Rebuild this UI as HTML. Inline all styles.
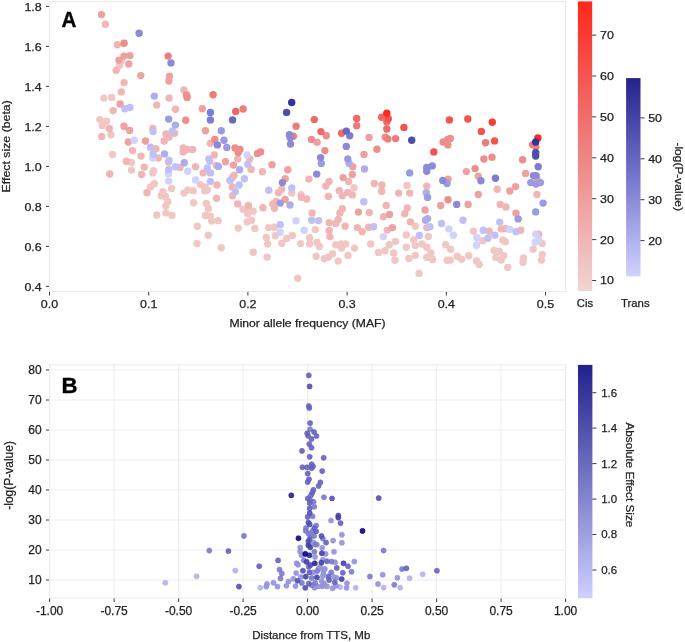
<!DOCTYPE html>
<html><head><meta charset="utf-8"><style>
html,body{margin:0;padding:0;background:#fff;}
svg{display:block;}
text{font-family:"Liberation Sans",sans-serif;fill:#222;stroke:#222;stroke-width:0.25px;}
svg{will-change:transform;}
.da{font-size:11.1px;}
.db{font-size:11.5px;}
.dbt{font-size:12px;}
.big{font-size:22.2px;font-weight:bold;fill:#000;stroke:#000;stroke-width:0.35px;}
</style></head><body>
<svg width="685" height="642" viewBox="0 0 685 642">
<rect width="685" height="642" fill="#fff"/>
<rect x="49.5" y="1.5" width="516" height="290" fill="none" stroke="#eaeaea" stroke-width="1"/>
<line x1="46" y1="6.4" x2="49" y2="6.4" stroke="#3a3a3a" stroke-width="1"/>
<text x="41.7" y="10.8" text-anchor="end" class="da" textLength="17.29" lengthAdjust="spacingAndGlyphs">1.8</text>
<line x1="46" y1="46.4" x2="49" y2="46.4" stroke="#3a3a3a" stroke-width="1"/>
<text x="41.7" y="50.8" text-anchor="end" class="da" textLength="17.29" lengthAdjust="spacingAndGlyphs">1.6</text>
<line x1="46" y1="86.4" x2="49" y2="86.4" stroke="#3a3a3a" stroke-width="1"/>
<text x="41.7" y="90.8" text-anchor="end" class="da" textLength="17.29" lengthAdjust="spacingAndGlyphs">1.4</text>
<line x1="46" y1="126.4" x2="49" y2="126.4" stroke="#3a3a3a" stroke-width="1"/>
<text x="41.7" y="130.8" text-anchor="end" class="da" textLength="17.29" lengthAdjust="spacingAndGlyphs">1.2</text>
<line x1="46" y1="166.4" x2="49" y2="166.4" stroke="#3a3a3a" stroke-width="1"/>
<text x="41.7" y="170.8" text-anchor="end" class="da" textLength="17.29" lengthAdjust="spacingAndGlyphs">1.0</text>
<line x1="46" y1="206.4" x2="49" y2="206.4" stroke="#3a3a3a" stroke-width="1"/>
<text x="41.7" y="210.8" text-anchor="end" class="da" textLength="17.29" lengthAdjust="spacingAndGlyphs">0.8</text>
<line x1="46" y1="246.4" x2="49" y2="246.4" stroke="#3a3a3a" stroke-width="1"/>
<text x="41.7" y="250.8" text-anchor="end" class="da" textLength="17.29" lengthAdjust="spacingAndGlyphs">0.6</text>
<line x1="46" y1="286.4" x2="49" y2="286.4" stroke="#3a3a3a" stroke-width="1"/>
<text x="41.7" y="290.8" text-anchor="end" class="da" textLength="17.29" lengthAdjust="spacingAndGlyphs">0.4</text>
<line x1="49.5" y1="292" x2="49.5" y2="295.5" stroke="#3a3a3a" stroke-width="1"/>
<text x="49.5" y="307.8" text-anchor="middle" class="da" textLength="17.29" lengthAdjust="spacingAndGlyphs">0.0</text>
<line x1="148.7" y1="292" x2="148.7" y2="295.5" stroke="#3a3a3a" stroke-width="1"/>
<text x="148.7" y="307.8" text-anchor="middle" class="da" textLength="17.29" lengthAdjust="spacingAndGlyphs">0.1</text>
<line x1="247.9" y1="292" x2="247.9" y2="295.5" stroke="#3a3a3a" stroke-width="1"/>
<text x="247.9" y="307.8" text-anchor="middle" class="da" textLength="17.29" lengthAdjust="spacingAndGlyphs">0.2</text>
<line x1="347.1" y1="292" x2="347.1" y2="295.5" stroke="#3a3a3a" stroke-width="1"/>
<text x="347.1" y="307.8" text-anchor="middle" class="da" textLength="17.29" lengthAdjust="spacingAndGlyphs">0.3</text>
<line x1="446.3" y1="292" x2="446.3" y2="295.5" stroke="#3a3a3a" stroke-width="1"/>
<text x="446.3" y="307.8" text-anchor="middle" class="da" textLength="17.29" lengthAdjust="spacingAndGlyphs">0.4</text>
<line x1="545.5" y1="292" x2="545.5" y2="295.5" stroke="#3a3a3a" stroke-width="1"/>
<text x="545.5" y="307.8" text-anchor="middle" class="da" textLength="17.29" lengthAdjust="spacingAndGlyphs">0.5</text>
<text x="307.5" y="326.6" text-anchor="middle" class="da" textLength="155.94" lengthAdjust="spacingAndGlyphs">Minor allele frequency (MAF)</text>
<text transform="translate(9.8,146.3) rotate(-90)" text-anchor="middle" class="da" textLength="92.26" lengthAdjust="spacingAndGlyphs">Effect size (beta)</text>
<text transform="translate(61.6,27.0) scale(0.93,1)" class="big">A</text>
<defs><linearGradient id="gc" x1="0" y1="1" x2="0" y2="0"><stop offset="0" stop-color="#f2d4d4"/><stop offset="0.5" stop-color="#ec807e"/><stop offset="1" stop-color="#ff281c"/></linearGradient><linearGradient id="gt" x1="0" y1="1" x2="0" y2="0"><stop offset="0" stop-color="#d2d2ff"/><stop offset="0.5" stop-color="#7676cd"/><stop offset="1" stop-color="#22228c"/></linearGradient><linearGradient id="gb" x1="0" y1="1" x2="0" y2="0"><stop offset="0" stop-color="#cfcfff"/><stop offset="1" stop-color="#21218d"/></linearGradient></defs>
<rect x="577.9" y="1.4" width="14.3" height="289.7" fill="url(#gc)"/>
<rect x="626.1" y="78.1" width="14.4" height="198.3" fill="url(#gt)"/>
<line x1="592.2" y1="35.1" x2="596.2" y2="35.1" stroke="#3a3a3a" stroke-width="1"/>
<text x="600.0" y="39.0" text-anchor="start" class="da" textLength="13.83" lengthAdjust="spacingAndGlyphs">70</text>
<line x1="592.2" y1="76.0" x2="596.2" y2="76.0" stroke="#3a3a3a" stroke-width="1"/>
<text x="600.0" y="79.9" text-anchor="start" class="da" textLength="13.83" lengthAdjust="spacingAndGlyphs">60</text>
<line x1="592.2" y1="116.9" x2="596.2" y2="116.9" stroke="#3a3a3a" stroke-width="1"/>
<text x="600.0" y="120.8" text-anchor="start" class="da" textLength="13.83" lengthAdjust="spacingAndGlyphs">50</text>
<line x1="592.2" y1="157.8" x2="596.2" y2="157.8" stroke="#3a3a3a" stroke-width="1"/>
<text x="600.0" y="161.7" text-anchor="start" class="da" textLength="13.83" lengthAdjust="spacingAndGlyphs">40</text>
<line x1="592.2" y1="198.7" x2="596.2" y2="198.7" stroke="#3a3a3a" stroke-width="1"/>
<text x="600.0" y="202.6" text-anchor="start" class="da" textLength="13.83" lengthAdjust="spacingAndGlyphs">30</text>
<line x1="592.2" y1="239.6" x2="596.2" y2="239.6" stroke="#3a3a3a" stroke-width="1"/>
<text x="600.0" y="243.5" text-anchor="start" class="da" textLength="13.83" lengthAdjust="spacingAndGlyphs">20</text>
<line x1="592.2" y1="280.5" x2="596.2" y2="280.5" stroke="#3a3a3a" stroke-width="1"/>
<text x="600.0" y="284.4" text-anchor="start" class="da" textLength="13.83" lengthAdjust="spacingAndGlyphs">10</text>
<line x1="640.5" y1="117.9" x2="644.5" y2="117.9" stroke="#3a3a3a" stroke-width="1"/>
<text x="648.2" y="121.8" text-anchor="start" class="da" textLength="13.83" lengthAdjust="spacingAndGlyphs">50</text>
<line x1="640.5" y1="158.8" x2="644.5" y2="158.8" stroke="#3a3a3a" stroke-width="1"/>
<text x="648.2" y="162.7" text-anchor="start" class="da" textLength="13.83" lengthAdjust="spacingAndGlyphs">40</text>
<line x1="640.5" y1="199.7" x2="644.5" y2="199.7" stroke="#3a3a3a" stroke-width="1"/>
<text x="648.2" y="203.6" text-anchor="start" class="da" textLength="13.83" lengthAdjust="spacingAndGlyphs">30</text>
<line x1="640.5" y1="240.6" x2="644.5" y2="240.6" stroke="#3a3a3a" stroke-width="1"/>
<text x="648.2" y="244.5" text-anchor="start" class="da" textLength="13.83" lengthAdjust="spacingAndGlyphs">20</text>
<text x="585" y="306.6" text-anchor="middle" class="da" textLength="16.27" lengthAdjust="spacingAndGlyphs">Cis</text>
<text x="635.3" y="306.6" text-anchor="middle" class="da" textLength="28.72" lengthAdjust="spacingAndGlyphs">Trans</text>
<text transform="translate(675.2,176.7) rotate(90)" text-anchor="middle" class="da" textLength="68.61" lengthAdjust="spacingAndGlyphs">-log(P-value)</text>
<circle cx="121.3" cy="60.8" r="3.7" fill="#f1c7c6"/>
<circle cx="119.5" cy="65.4" r="3.7" fill="#f1c7c6"/>
<circle cx="103.9" cy="98.1" r="3.7" fill="#f1c7c6"/>
<circle cx="111.7" cy="97.4" r="3.7" fill="#f1c7c6"/>
<circle cx="99.8" cy="119.6" r="3.7" fill="#f1c7c6"/>
<circle cx="106.5" cy="121.2" r="3.7" fill="#f1c7c6"/>
<circle cx="102.2" cy="125.7" r="3.7" fill="#f1c7c6"/>
<circle cx="110.9" cy="134.7" r="3.7" fill="#f1c7c6"/>
<circle cx="112.5" cy="154.5" r="3.7" fill="#f1c7c6"/>
<circle cx="131.5" cy="162.5" r="3.7" fill="#f1c7c6"/>
<circle cx="131.5" cy="170.1" r="3.7" fill="#f1c7c6"/>
<circle cx="153.6" cy="170.6" r="3.7" fill="#f1c7c6"/>
<circle cx="152.8" cy="172.9" r="3.7" fill="#f1c7c6"/>
<circle cx="200.3" cy="184.6" r="3.7" fill="#f1c7c6"/>
<circle cx="205.0" cy="186.9" r="3.7" fill="#f1c7c6"/>
<circle cx="207.3" cy="190.0" r="3.7" fill="#f1c7c6"/>
<circle cx="154.3" cy="183.8" r="3.7" fill="#f1c7c6"/>
<circle cx="150.5" cy="186.9" r="3.7" fill="#f1c7c6"/>
<circle cx="171.5" cy="188.5" r="3.7" fill="#f1c7c6"/>
<circle cx="162.9" cy="191.6" r="3.7" fill="#f1c7c6"/>
<circle cx="187.8" cy="190.0" r="3.7" fill="#f1c7c6"/>
<circle cx="193.3" cy="190.8" r="3.7" fill="#f1c7c6"/>
<circle cx="183.9" cy="193.1" r="3.7" fill="#f1c7c6"/>
<circle cx="161.4" cy="195.7" r="3.7" fill="#f1c7c6"/>
<circle cx="165.4" cy="196.5" r="3.7" fill="#f1c7c6"/>
<circle cx="167.9" cy="201.4" r="3.7" fill="#f1c7c6"/>
<circle cx="165.9" cy="206.0" r="3.7" fill="#f1c7c6"/>
<circle cx="165.9" cy="212.9" r="3.7" fill="#f1c7c6"/>
<circle cx="172.0" cy="215.4" r="3.7" fill="#f1c7c6"/>
<circle cx="156.8" cy="215.0" r="3.7" fill="#f1c7c6"/>
<circle cx="193.6" cy="202.8" r="3.7" fill="#f1c7c6"/>
<circle cx="204.7" cy="190.8" r="3.7" fill="#f1c7c6"/>
<circle cx="206.3" cy="203.4" r="3.7" fill="#f1c7c6"/>
<circle cx="208.5" cy="208.8" r="3.7" fill="#f1c7c6"/>
<circle cx="205.5" cy="215.4" r="3.7" fill="#f1c7c6"/>
<circle cx="210.4" cy="216.2" r="3.7" fill="#f1c7c6"/>
<circle cx="211.7" cy="221.1" r="3.7" fill="#f1c7c6"/>
<circle cx="218.1" cy="220.7" r="3.7" fill="#f1c7c6"/>
<circle cx="197.3" cy="226.3" r="3.7" fill="#f1c7c6"/>
<circle cx="208.3" cy="235.3" r="3.7" fill="#f1c7c6"/>
<circle cx="197.0" cy="243.5" r="3.7" fill="#f1c7c6"/>
<circle cx="221.2" cy="247.7" r="3.7" fill="#f1c7c6"/>
<circle cx="243.1" cy="209.3" r="3.7" fill="#f1c7c6"/>
<circle cx="247.7" cy="213.7" r="3.7" fill="#f1c7c6"/>
<circle cx="247.2" cy="221.9" r="3.7" fill="#f1c7c6"/>
<circle cx="238.2" cy="228.1" r="3.7" fill="#f1c7c6"/>
<circle cx="291.7" cy="193.1" r="3.7" fill="#f1c7c6"/>
<circle cx="301.1" cy="194.7" r="3.7" fill="#f1c7c6"/>
<circle cx="249.1" cy="210.4" r="3.7" fill="#f1c7c6"/>
<circle cx="253.2" cy="211.3" r="3.7" fill="#f1c7c6"/>
<circle cx="251.5" cy="220.3" r="3.7" fill="#f1c7c6"/>
<circle cx="254.8" cy="228.4" r="3.7" fill="#f1c7c6"/>
<circle cx="268.7" cy="227.6" r="3.7" fill="#f1c7c6"/>
<circle cx="274.4" cy="227.3" r="3.7" fill="#f1c7c6"/>
<circle cx="275.3" cy="235.8" r="3.7" fill="#f1c7c6"/>
<circle cx="266.3" cy="237.4" r="3.7" fill="#f1c7c6"/>
<circle cx="267.6" cy="244.0" r="3.7" fill="#f1c7c6"/>
<circle cx="281.8" cy="243.2" r="3.7" fill="#f1c7c6"/>
<circle cx="286.7" cy="238.2" r="3.7" fill="#f1c7c6"/>
<circle cx="292.4" cy="235.5" r="3.7" fill="#f1c7c6"/>
<circle cx="300.6" cy="243.6" r="3.7" fill="#f1c7c6"/>
<circle cx="315.3" cy="229.6" r="3.7" fill="#f1c7c6"/>
<circle cx="309.6" cy="237.8" r="3.7" fill="#f1c7c6"/>
<circle cx="309.6" cy="244.0" r="3.7" fill="#f1c7c6"/>
<circle cx="317.0" cy="242.3" r="3.7" fill="#f1c7c6"/>
<circle cx="319.4" cy="246.4" r="3.7" fill="#f1c7c6"/>
<circle cx="335.8" cy="244.8" r="3.7" fill="#f1c7c6"/>
<circle cx="341.5" cy="244.0" r="3.7" fill="#f1c7c6"/>
<circle cx="345.6" cy="244.0" r="3.7" fill="#f1c7c6"/>
<circle cx="341.5" cy="248.1" r="3.7" fill="#f1c7c6"/>
<circle cx="348.0" cy="255.4" r="3.7" fill="#f1c7c6"/>
<circle cx="332.5" cy="253.8" r="3.7" fill="#f1c7c6"/>
<circle cx="328.4" cy="257.1" r="3.7" fill="#f1c7c6"/>
<circle cx="324.3" cy="258.7" r="3.7" fill="#f1c7c6"/>
<circle cx="316.1" cy="256.2" r="3.7" fill="#f1c7c6"/>
<circle cx="338.2" cy="261.1" r="3.7" fill="#f1c7c6"/>
<circle cx="253.2" cy="252.2" r="3.7" fill="#f1c7c6"/>
<circle cx="267.1" cy="257.1" r="3.7" fill="#f1c7c6"/>
<circle cx="297.7" cy="278.3" r="3.7" fill="#f1c7c6"/>
<circle cx="354.0" cy="187.7" r="3.7" fill="#f1c7c6"/>
<circle cx="407.0" cy="185.4" r="3.7" fill="#f1c7c6"/>
<circle cx="415.3" cy="226.3" r="3.7" fill="#f1c7c6"/>
<circle cx="406.3" cy="235.0" r="3.7" fill="#f1c7c6"/>
<circle cx="428.4" cy="236.6" r="3.7" fill="#f1c7c6"/>
<circle cx="413.7" cy="239.9" r="3.7" fill="#f1c7c6"/>
<circle cx="415.3" cy="245.6" r="3.7" fill="#f1c7c6"/>
<circle cx="421.9" cy="244.0" r="3.7" fill="#f1c7c6"/>
<circle cx="426.8" cy="247.2" r="3.7" fill="#f1c7c6"/>
<circle cx="354.5" cy="248.1" r="3.7" fill="#f1c7c6"/>
<circle cx="370.7" cy="244.0" r="3.7" fill="#f1c7c6"/>
<circle cx="395.4" cy="241.5" r="3.7" fill="#f1c7c6"/>
<circle cx="389.2" cy="244.8" r="3.7" fill="#f1c7c6"/>
<circle cx="406.3" cy="247.2" r="3.7" fill="#f1c7c6"/>
<circle cx="378.5" cy="252.5" r="3.7" fill="#f1c7c6"/>
<circle cx="385.1" cy="250.8" r="3.7" fill="#f1c7c6"/>
<circle cx="393.7" cy="253.0" r="3.7" fill="#f1c7c6"/>
<circle cx="394.9" cy="260.3" r="3.7" fill="#f1c7c6"/>
<circle cx="408.8" cy="258.4" r="3.7" fill="#f1c7c6"/>
<circle cx="415.3" cy="255.4" r="3.7" fill="#f1c7c6"/>
<circle cx="430.9" cy="253.0" r="3.7" fill="#f1c7c6"/>
<circle cx="426.8" cy="257.4" r="3.7" fill="#f1c7c6"/>
<circle cx="432.5" cy="259.5" r="3.7" fill="#f1c7c6"/>
<circle cx="445.6" cy="244.8" r="3.7" fill="#f1c7c6"/>
<circle cx="447.2" cy="260.3" r="3.7" fill="#f1c7c6"/>
<circle cx="419.1" cy="273.4" r="3.7" fill="#f1c7c6"/>
<circle cx="473.4" cy="231.2" r="3.7" fill="#f1c7c6"/>
<circle cx="482.7" cy="240.8" r="3.7" fill="#f1c7c6"/>
<circle cx="542.2" cy="243.4" r="3.7" fill="#f1c7c6"/>
<circle cx="533.1" cy="249.2" r="3.7" fill="#f1c7c6"/>
<circle cx="542.2" cy="254.5" r="3.7" fill="#f1c7c6"/>
<circle cx="541.4" cy="260.1" r="3.7" fill="#f1c7c6"/>
<circle cx="502.8" cy="239.9" r="3.7" fill="#f1c7c6"/>
<circle cx="505.4" cy="241.7" r="3.7" fill="#f1c7c6"/>
<circle cx="450.6" cy="249.2" r="3.7" fill="#f1c7c6"/>
<circle cx="457.3" cy="256.2" r="3.7" fill="#f1c7c6"/>
<circle cx="461.6" cy="259.2" r="3.7" fill="#f1c7c6"/>
<circle cx="468.7" cy="255.7" r="3.7" fill="#f1c7c6"/>
<circle cx="450.3" cy="260.1" r="3.7" fill="#f1c7c6"/>
<circle cx="476.5" cy="261.0" r="3.7" fill="#f1c7c6"/>
<circle cx="479.2" cy="264.5" r="3.7" fill="#f1c7c6"/>
<circle cx="494.1" cy="250.4" r="3.7" fill="#f1c7c6"/>
<circle cx="499.3" cy="251.3" r="3.7" fill="#f1c7c6"/>
<circle cx="503.7" cy="255.7" r="3.7" fill="#f1c7c6"/>
<circle cx="495.8" cy="257.4" r="3.7" fill="#f1c7c6"/>
<circle cx="501.1" cy="260.1" r="3.7" fill="#f1c7c6"/>
<circle cx="523.5" cy="258.0" r="3.7" fill="#f1c7c6"/>
<circle cx="523.0" cy="262.2" r="3.7" fill="#f1c7c6"/>
<circle cx="507.7" cy="267.4" r="3.7" fill="#f1c7c6"/>
<circle cx="105.4" cy="24.3" r="3.7" fill="#f0b6b5"/>
<circle cx="117.4" cy="44.7" r="3.7" fill="#f0b6b5"/>
<circle cx="116.2" cy="70.3" r="3.7" fill="#f0b6b5"/>
<circle cx="124.1" cy="82.6" r="3.7" fill="#f0b6b5"/>
<circle cx="121.3" cy="91.9" r="3.7" fill="#f0b6b5"/>
<circle cx="113.1" cy="110.6" r="3.7" fill="#f0b6b5"/>
<circle cx="109.3" cy="128.5" r="3.7" fill="#f0b6b5"/>
<circle cx="101.7" cy="136.4" r="3.7" fill="#f0b6b5"/>
<circle cx="132.6" cy="150.6" r="3.7" fill="#f0b6b5"/>
<circle cx="141.1" cy="156.1" r="3.7" fill="#f0b6b5"/>
<circle cx="126.3" cy="161.2" r="3.7" fill="#f0b6b5"/>
<circle cx="144.2" cy="167.1" r="3.7" fill="#f0b6b5"/>
<circle cx="109.7" cy="174.0" r="3.7" fill="#f0b6b5"/>
<circle cx="141.6" cy="174.5" r="3.7" fill="#f0b6b5"/>
<circle cx="147.0" cy="192.8" r="3.7" fill="#f0b6b5"/>
<circle cx="183.9" cy="90.0" r="3.7" fill="#f0b6b5"/>
<circle cx="169.1" cy="98.1" r="3.7" fill="#f0b6b5"/>
<circle cx="156.7" cy="105.1" r="3.7" fill="#f0b6b5"/>
<circle cx="175.4" cy="109.3" r="3.7" fill="#f0b6b5"/>
<circle cx="152.8" cy="128.5" r="3.7" fill="#f0b6b5"/>
<circle cx="174.6" cy="133.2" r="3.7" fill="#f0b6b5"/>
<circle cx="166.0" cy="134.0" r="3.7" fill="#f0b6b5"/>
<circle cx="169.1" cy="137.1" r="3.7" fill="#f0b6b5"/>
<circle cx="164.2" cy="141.0" r="3.7" fill="#f0b6b5"/>
<circle cx="210.4" cy="143.3" r="3.7" fill="#f0b6b5"/>
<circle cx="155.9" cy="148.7" r="3.7" fill="#f0b6b5"/>
<circle cx="183.2" cy="148.0" r="3.7" fill="#f0b6b5"/>
<circle cx="187.1" cy="149.5" r="3.7" fill="#f0b6b5"/>
<circle cx="192.5" cy="149.5" r="3.7" fill="#f0b6b5"/>
<circle cx="183.2" cy="151.9" r="3.7" fill="#f0b6b5"/>
<circle cx="158.2" cy="158.1" r="3.7" fill="#f0b6b5"/>
<circle cx="168.4" cy="162.0" r="3.7" fill="#f0b6b5"/>
<circle cx="180.0" cy="167.4" r="3.7" fill="#f0b6b5"/>
<circle cx="195.6" cy="166.7" r="3.7" fill="#f0b6b5"/>
<circle cx="214.3" cy="155.0" r="3.7" fill="#f0b6b5"/>
<circle cx="216.4" cy="165.4" r="3.7" fill="#f0b6b5"/>
<circle cx="237.7" cy="158.9" r="3.7" fill="#f0b6b5"/>
<circle cx="203.1" cy="172.9" r="3.7" fill="#f0b6b5"/>
<circle cx="234.1" cy="175.2" r="3.7" fill="#f0b6b5"/>
<circle cx="232.2" cy="177.6" r="3.7" fill="#f0b6b5"/>
<circle cx="217.0" cy="185.0" r="3.7" fill="#f0b6b5"/>
<circle cx="232.2" cy="186.9" r="3.7" fill="#f0b6b5"/>
<circle cx="216.5" cy="198.2" r="3.7" fill="#f0b6b5"/>
<circle cx="232.5" cy="195.7" r="3.7" fill="#f0b6b5"/>
<circle cx="237.7" cy="203.9" r="3.7" fill="#f0b6b5"/>
<circle cx="248.4" cy="205.5" r="3.7" fill="#f0b6b5"/>
<circle cx="249.7" cy="158.9" r="3.7" fill="#f0b6b5"/>
<circle cx="251.2" cy="169.5" r="3.7" fill="#f0b6b5"/>
<circle cx="262.4" cy="171.8" r="3.7" fill="#f0b6b5"/>
<circle cx="308.9" cy="179.1" r="3.7" fill="#f0b6b5"/>
<circle cx="281.6" cy="189.3" r="3.7" fill="#f0b6b5"/>
<circle cx="278.5" cy="192.8" r="3.7" fill="#f0b6b5"/>
<circle cx="329.1" cy="181.5" r="3.7" fill="#f0b6b5"/>
<circle cx="325.7" cy="186.1" r="3.7" fill="#f0b6b5"/>
<circle cx="348.6" cy="181.5" r="3.7" fill="#f0b6b5"/>
<circle cx="339.3" cy="190.8" r="3.7" fill="#f0b6b5"/>
<circle cx="347.8" cy="192.4" r="3.7" fill="#f0b6b5"/>
<circle cx="272.8" cy="203.9" r="3.7" fill="#f0b6b5"/>
<circle cx="276.1" cy="201.4" r="3.7" fill="#f0b6b5"/>
<circle cx="274.4" cy="208.3" r="3.7" fill="#f0b6b5"/>
<circle cx="263.0" cy="207.7" r="3.7" fill="#f0b6b5"/>
<circle cx="301.4" cy="197.4" r="3.7" fill="#f0b6b5"/>
<circle cx="306.7" cy="199.0" r="3.7" fill="#f0b6b5"/>
<circle cx="312.1" cy="212.9" r="3.7" fill="#f0b6b5"/>
<circle cx="328.4" cy="196.5" r="3.7" fill="#f0b6b5"/>
<circle cx="342.3" cy="195.7" r="3.7" fill="#f0b6b5"/>
<circle cx="342.3" cy="208.8" r="3.7" fill="#f0b6b5"/>
<circle cx="339.9" cy="212.9" r="3.7" fill="#f0b6b5"/>
<circle cx="338.2" cy="219.4" r="3.7" fill="#f0b6b5"/>
<circle cx="329.2" cy="222.7" r="3.7" fill="#f0b6b5"/>
<circle cx="335.8" cy="223.5" r="3.7" fill="#f0b6b5"/>
<circle cx="329.2" cy="230.6" r="3.7" fill="#f0b6b5"/>
<circle cx="330.0" cy="236.6" r="3.7" fill="#f0b6b5"/>
<circle cx="345.1" cy="226.3" r="3.7" fill="#f0b6b5"/>
<circle cx="374.3" cy="183.5" r="3.7" fill="#f0b6b5"/>
<circle cx="381.9" cy="185.0" r="3.7" fill="#f0b6b5"/>
<circle cx="381.6" cy="191.3" r="3.7" fill="#f0b6b5"/>
<circle cx="398.7" cy="193.1" r="3.7" fill="#f0b6b5"/>
<circle cx="409.7" cy="193.1" r="3.7" fill="#f0b6b5"/>
<circle cx="426.8" cy="186.1" r="3.7" fill="#f0b6b5"/>
<circle cx="352.4" cy="194.9" r="3.7" fill="#f0b6b5"/>
<circle cx="386.2" cy="205.5" r="3.7" fill="#f0b6b5"/>
<circle cx="407.2" cy="208.0" r="3.7" fill="#f0b6b5"/>
<circle cx="404.7" cy="213.7" r="3.7" fill="#f0b6b5"/>
<circle cx="369.2" cy="212.6" r="3.7" fill="#f0b6b5"/>
<circle cx="383.4" cy="216.7" r="3.7" fill="#f0b6b5"/>
<circle cx="410.4" cy="221.9" r="3.7" fill="#f0b6b5"/>
<circle cx="357.3" cy="227.6" r="3.7" fill="#f0b6b5"/>
<circle cx="362.2" cy="231.7" r="3.7" fill="#f0b6b5"/>
<circle cx="368.7" cy="227.3" r="3.7" fill="#f0b6b5"/>
<circle cx="387.2" cy="230.1" r="3.7" fill="#f0b6b5"/>
<circle cx="426.8" cy="227.6" r="3.7" fill="#f0b6b5"/>
<circle cx="497.2" cy="189.3" r="3.7" fill="#f0b6b5"/>
<circle cx="537.0" cy="194.5" r="3.7" fill="#f0b6b5"/>
<circle cx="500.2" cy="204.4" r="3.7" fill="#f0b6b5"/>
<circle cx="506.0" cy="207.0" r="3.7" fill="#f0b6b5"/>
<circle cx="489.1" cy="231.2" r="3.7" fill="#f0b6b5"/>
<circle cx="501.4" cy="228.9" r="3.7" fill="#f0b6b5"/>
<circle cx="505.4" cy="228.5" r="3.7" fill="#f0b6b5"/>
<circle cx="520.7" cy="230.3" r="3.7" fill="#f0b6b5"/>
<circle cx="538.7" cy="234.1" r="3.7" fill="#f0b6b5"/>
<circle cx="101.5" cy="14.6" r="3.7" fill="#eea2a0"/>
<circle cx="129.9" cy="55.6" r="3.7" fill="#eea2a0"/>
<circle cx="124.0" cy="56.1" r="3.7" fill="#eea2a0"/>
<circle cx="119.0" cy="60.3" r="3.7" fill="#eea2a0"/>
<circle cx="128.8" cy="63.9" r="3.7" fill="#eea2a0"/>
<circle cx="140.8" cy="75.6" r="3.7" fill="#eea2a0"/>
<circle cx="120.1" cy="104.0" r="3.7" fill="#eea2a0"/>
<circle cx="124.0" cy="126.2" r="3.7" fill="#eea2a0"/>
<circle cx="129.6" cy="130.5" r="3.7" fill="#eea2a0"/>
<circle cx="128.3" cy="142.0" r="3.7" fill="#eea2a0"/>
<circle cx="145.5" cy="141.0" r="3.7" fill="#eea2a0"/>
<circle cx="169.5" cy="76.3" r="3.7" fill="#eea2a0"/>
<circle cx="168.8" cy="81.0" r="3.7" fill="#eea2a0"/>
<circle cx="202.3" cy="108.7" r="3.7" fill="#eea2a0"/>
<circle cx="205.4" cy="130.8" r="3.7" fill="#eea2a0"/>
<circle cx="225.5" cy="161.7" r="3.7" fill="#eea2a0"/>
<circle cx="233.5" cy="165.1" r="3.7" fill="#eea2a0"/>
<circle cx="317.1" cy="142.2" r="3.7" fill="#eea2a0"/>
<circle cx="272.0" cy="164.8" r="3.7" fill="#eea2a0"/>
<circle cx="287.8" cy="169.8" r="3.7" fill="#eea2a0"/>
<circle cx="285.2" cy="178.7" r="3.7" fill="#eea2a0"/>
<circle cx="343.1" cy="177.6" r="3.7" fill="#eea2a0"/>
<circle cx="285.1" cy="199.5" r="3.7" fill="#eea2a0"/>
<circle cx="369.1" cy="137.4" r="3.7" fill="#eea2a0"/>
<circle cx="364.0" cy="154.5" r="3.7" fill="#eea2a0"/>
<circle cx="352.8" cy="166.7" r="3.7" fill="#eea2a0"/>
<circle cx="352.3" cy="174.5" r="3.7" fill="#eea2a0"/>
<circle cx="448.1" cy="179.1" r="3.7" fill="#eea2a0"/>
<circle cx="440.7" cy="205.5" r="3.7" fill="#eea2a0"/>
<circle cx="425.1" cy="210.0" r="3.7" fill="#eea2a0"/>
<circle cx="358.4" cy="212.1" r="3.7" fill="#eea2a0"/>
<circle cx="389.5" cy="214.5" r="3.7" fill="#eea2a0"/>
<circle cx="392.4" cy="227.6" r="3.7" fill="#eea2a0"/>
<circle cx="466.4" cy="171.6" r="3.7" fill="#eea2a0"/>
<circle cx="478.3" cy="176.1" r="3.7" fill="#eea2a0"/>
<circle cx="525.6" cy="173.5" r="3.7" fill="#eea2a0"/>
<circle cx="537.0" cy="179.1" r="3.7" fill="#eea2a0"/>
<circle cx="515.6" cy="186.6" r="3.7" fill="#eea2a0"/>
<circle cx="509.8" cy="191.0" r="3.7" fill="#eea2a0"/>
<circle cx="478.3" cy="194.5" r="3.7" fill="#eea2a0"/>
<circle cx="468.1" cy="204.5" r="3.7" fill="#eea2a0"/>
<circle cx="516.0" cy="213.1" r="3.7" fill="#eea2a0"/>
<circle cx="124.1" cy="43.2" r="3.7" fill="#ed8d8c"/>
<circle cx="186.6" cy="95.0" r="3.7" fill="#ed8d8c"/>
<circle cx="187.1" cy="97.4" r="3.7" fill="#ed8d8c"/>
<circle cx="185.8" cy="120.2" r="3.7" fill="#ed8d8c"/>
<circle cx="214.8" cy="139.4" r="3.7" fill="#ed8d8c"/>
<circle cx="235.0" cy="148.0" r="3.7" fill="#ed8d8c"/>
<circle cx="240.0" cy="149.5" r="3.7" fill="#ed8d8c"/>
<circle cx="238.2" cy="152.6" r="3.7" fill="#ed8d8c"/>
<circle cx="326.3" cy="135.8" r="3.7" fill="#ed8d8c"/>
<circle cx="311.5" cy="139.4" r="3.7" fill="#ed8d8c"/>
<circle cx="324.9" cy="150.6" r="3.7" fill="#ed8d8c"/>
<circle cx="260.6" cy="151.9" r="3.7" fill="#ed8d8c"/>
<circle cx="257.5" cy="153.4" r="3.7" fill="#ed8d8c"/>
<circle cx="385.2" cy="137.1" r="3.7" fill="#ed8d8c"/>
<circle cx="376.9" cy="149.2" r="3.7" fill="#ed8d8c"/>
<circle cx="443.1" cy="142.0" r="3.7" fill="#ed8d8c"/>
<circle cx="447.8" cy="139.4" r="3.7" fill="#ed8d8c"/>
<circle cx="447.8" cy="144.9" r="3.7" fill="#ed8d8c"/>
<circle cx="448.0" cy="199.8" r="3.7" fill="#ed8d8c"/>
<circle cx="450.3" cy="138.4" r="3.7" fill="#ed8d8c"/>
<circle cx="522.6" cy="159.8" r="3.7" fill="#ed8d8c"/>
<circle cx="492.0" cy="157.2" r="3.7" fill="#ed8d8c"/>
<circle cx="483.9" cy="159.0" r="3.7" fill="#ed8d8c"/>
<circle cx="475.1" cy="168.6" r="3.7" fill="#ed8d8c"/>
<circle cx="168.1" cy="56.1" r="3.7" fill="#ed7c7a"/>
<circle cx="213.1" cy="94.7" r="3.7" fill="#ed7c7a"/>
<circle cx="243.1" cy="109.0" r="3.7" fill="#ed7c7a"/>
<circle cx="296.1" cy="126.2" r="3.7" fill="#ed7c7a"/>
<circle cx="293.3" cy="136.3" r="3.7" fill="#ed7c7a"/>
<circle cx="356.7" cy="125.7" r="3.7" fill="#ed7c7a"/>
<circle cx="387.8" cy="138.9" r="3.7" fill="#ed7c7a"/>
<circle cx="395.6" cy="138.6" r="3.7" fill="#ed7c7a"/>
<circle cx="485.6" cy="142.7" r="3.7" fill="#ed7c7a"/>
<circle cx="532.6" cy="144.6" r="3.7" fill="#ed7c7a"/>
<circle cx="535.7" cy="146.7" r="3.7" fill="#ed7c7a"/>
<circle cx="235.7" cy="111.4" r="3.7" fill="#f16965"/>
<circle cx="314.3" cy="119.6" r="3.7" fill="#f16965"/>
<circle cx="320.9" cy="131.6" r="3.7" fill="#f16965"/>
<circle cx="341.6" cy="133.2" r="3.7" fill="#f16965"/>
<circle cx="356.7" cy="118.4" r="3.7" fill="#f16965"/>
<circle cx="381.6" cy="117.3" r="3.7" fill="#f16965"/>
<circle cx="386.8" cy="121.8" r="3.7" fill="#f16965"/>
<circle cx="386.8" cy="129.0" r="3.7" fill="#f16965"/>
<circle cx="388.3" cy="118.7" r="3.7" fill="#f6524b"/>
<circle cx="403.9" cy="127.4" r="3.7" fill="#f6524b"/>
<circle cx="449.4" cy="119.9" r="3.7" fill="#f6524b"/>
<circle cx="433.8" cy="151.9" r="3.7" fill="#f6524b"/>
<circle cx="467.8" cy="119.0" r="3.7" fill="#f6524b"/>
<circle cx="481.3" cy="131.4" r="3.7" fill="#f6524b"/>
<circle cx="494.6" cy="140.9" r="3.7" fill="#f6524b"/>
<circle cx="492.3" cy="122.2" r="3.7" fill="#fa3d34"/>
<circle cx="386.8" cy="113.2" r="3.7" fill="#ff281c"/>
<circle cx="537.9" cy="137.9" r="3.7" fill="#ff281c"/>
<circle cx="134.1" cy="140.2" r="3.7" fill="#d2d2ff"/>
<circle cx="152.8" cy="158.1" r="3.7" fill="#d2d2ff"/>
<circle cx="187.8" cy="171.3" r="3.7" fill="#d2d2ff"/>
<circle cx="247.0" cy="155.0" r="3.7" fill="#d2d2ff"/>
<circle cx="168.4" cy="173.7" r="3.7" fill="#d2d2ff"/>
<circle cx="168.7" cy="181.1" r="3.7" fill="#d2d2ff"/>
<circle cx="195.6" cy="179.9" r="3.7" fill="#d2d2ff"/>
<circle cx="280.2" cy="232.5" r="3.7" fill="#d2d2ff"/>
<circle cx="296.0" cy="220.7" r="3.7" fill="#d2d2ff"/>
<circle cx="304.2" cy="230.2" r="3.7" fill="#d2d2ff"/>
<circle cx="448.9" cy="228.9" r="3.7" fill="#d2d2ff"/>
<circle cx="383.4" cy="236.6" r="3.7" fill="#d2d2ff"/>
<circle cx="453.4" cy="235.2" r="3.7" fill="#d2d2ff"/>
<circle cx="476.9" cy="237.8" r="3.7" fill="#d2d2ff"/>
<circle cx="476.5" cy="245.2" r="3.7" fill="#d2d2ff"/>
<circle cx="509.8" cy="229.4" r="3.7" fill="#d2d2ff"/>
<circle cx="535.7" cy="234.1" r="3.7" fill="#d2d2ff"/>
<circle cx="538.7" cy="239.9" r="3.7" fill="#d2d2ff"/>
<circle cx="535.2" cy="242.2" r="3.7" fill="#d2d2ff"/>
<circle cx="124.8" cy="108.7" r="3.7" fill="#c0c0f5"/>
<circle cx="129.9" cy="107.5" r="3.7" fill="#c0c0f5"/>
<circle cx="153.1" cy="131.6" r="3.7" fill="#c0c0f5"/>
<circle cx="172.3" cy="131.1" r="3.7" fill="#c0c0f5"/>
<circle cx="150.5" cy="147.2" r="3.7" fill="#c0c0f5"/>
<circle cx="153.1" cy="154.2" r="3.7" fill="#c0c0f5"/>
<circle cx="169.1" cy="160.4" r="3.7" fill="#c0c0f5"/>
<circle cx="175.4" cy="166.7" r="3.7" fill="#c0c0f5"/>
<circle cx="208.9" cy="158.9" r="3.7" fill="#c0c0f5"/>
<circle cx="209.7" cy="161.2" r="3.7" fill="#c0c0f5"/>
<circle cx="207.3" cy="168.2" r="3.7" fill="#c0c0f5"/>
<circle cx="210.4" cy="172.9" r="3.7" fill="#c0c0f5"/>
<circle cx="247.8" cy="164.3" r="3.7" fill="#c0c0f5"/>
<circle cx="168.7" cy="169.5" r="3.7" fill="#c0c0f5"/>
<circle cx="210.4" cy="181.5" r="3.7" fill="#c0c0f5"/>
<circle cx="229.9" cy="180.4" r="3.7" fill="#c0c0f5"/>
<circle cx="244.4" cy="178.8" r="3.7" fill="#c0c0f5"/>
<circle cx="239.2" cy="185.0" r="3.7" fill="#c0c0f5"/>
<circle cx="235.4" cy="191.6" r="3.7" fill="#c0c0f5"/>
<circle cx="291.7" cy="188.0" r="3.7" fill="#c0c0f5"/>
<circle cx="268.7" cy="190.3" r="3.7" fill="#c0c0f5"/>
<circle cx="280.2" cy="224.7" r="3.7" fill="#c0c0f5"/>
<circle cx="311.7" cy="220.3" r="3.7" fill="#c0c0f5"/>
<circle cx="318.6" cy="220.6" r="3.7" fill="#c0c0f5"/>
<circle cx="363.8" cy="201.8" r="3.7" fill="#c0c0f5"/>
<circle cx="430.0" cy="226.8" r="3.7" fill="#c0c0f5"/>
<circle cx="441.5" cy="223.5" r="3.7" fill="#c0c0f5"/>
<circle cx="373.6" cy="226.8" r="3.7" fill="#c0c0f5"/>
<circle cx="419.4" cy="235.5" r="3.7" fill="#c0c0f5"/>
<circle cx="499.7" cy="222.1" r="3.7" fill="#c0c0f5"/>
<circle cx="463.0" cy="220.3" r="3.7" fill="#c0c0f5"/>
<circle cx="483.2" cy="230.3" r="3.7" fill="#c0c0f5"/>
<circle cx="487.9" cy="238.2" r="3.7" fill="#c0c0f5"/>
<circle cx="494.9" cy="235.2" r="3.7" fill="#c0c0f5"/>
<circle cx="516.0" cy="231.7" r="3.7" fill="#c0c0f5"/>
<circle cx="154.3" cy="96.1" r="3.7" fill="#adadeb"/>
<circle cx="175.4" cy="125.1" r="3.7" fill="#adadeb"/>
<circle cx="164.5" cy="153.9" r="3.7" fill="#adadeb"/>
<circle cx="184.3" cy="162.8" r="3.7" fill="#adadeb"/>
<circle cx="218.5" cy="166.4" r="3.7" fill="#adadeb"/>
<circle cx="239.6" cy="169.8" r="3.7" fill="#adadeb"/>
<circle cx="349.1" cy="163.5" r="3.7" fill="#adadeb"/>
<circle cx="290.0" cy="205.0" r="3.7" fill="#adadeb"/>
<circle cx="364.5" cy="169.0" r="3.7" fill="#adadeb"/>
<circle cx="426.3" cy="192.8" r="3.7" fill="#adadeb"/>
<circle cx="427.6" cy="218.6" r="3.7" fill="#adadeb"/>
<circle cx="425.5" cy="220.3" r="3.7" fill="#adadeb"/>
<circle cx="168.7" cy="119.1" r="3.7" fill="#9b9be1"/>
<circle cx="221.3" cy="130.8" r="3.7" fill="#9b9be1"/>
<circle cx="224.0" cy="140.2" r="3.7" fill="#9b9be1"/>
<circle cx="226.8" cy="147.5" r="3.7" fill="#9b9be1"/>
<circle cx="321.3" cy="163.5" r="3.7" fill="#9b9be1"/>
<circle cx="347.8" cy="158.9" r="3.7" fill="#9b9be1"/>
<circle cx="280.2" cy="203.1" r="3.7" fill="#9b9be1"/>
<circle cx="409.7" cy="172.9" r="3.7" fill="#9b9be1"/>
<circle cx="447.0" cy="183.5" r="3.7" fill="#9b9be1"/>
<circle cx="427.6" cy="197.4" r="3.7" fill="#9b9be1"/>
<circle cx="530.8" cy="182.6" r="3.7" fill="#9b9be1"/>
<circle cx="536.1" cy="184.0" r="3.7" fill="#9b9be1"/>
<circle cx="540.5" cy="182.6" r="3.7" fill="#9b9be1"/>
<circle cx="543.1" cy="203.1" r="3.7" fill="#9b9be1"/>
<circle cx="535.7" cy="211.9" r="3.7" fill="#9b9be1"/>
<circle cx="518.2" cy="218.9" r="3.7" fill="#9b9be1"/>
<circle cx="139.1" cy="33.2" r="3.7" fill="#8a8ad8"/>
<circle cx="171.0" cy="62.9" r="3.7" fill="#8a8ad8"/>
<circle cx="217.4" cy="144.9" r="3.7" fill="#8a8ad8"/>
<circle cx="289.4" cy="134.7" r="3.7" fill="#8a8ad8"/>
<circle cx="290.2" cy="137.8" r="3.7" fill="#8a8ad8"/>
<circle cx="290.5" cy="144.1" r="3.7" fill="#8a8ad8"/>
<circle cx="346.3" cy="146.4" r="3.7" fill="#8a8ad8"/>
<circle cx="320.6" cy="157.6" r="3.7" fill="#8a8ad8"/>
<circle cx="316.7" cy="174.1" r="3.7" fill="#8a8ad8"/>
<circle cx="282.4" cy="182.6" r="3.7" fill="#8a8ad8"/>
<circle cx="426.8" cy="167.4" r="3.7" fill="#8a8ad8"/>
<circle cx="426.8" cy="171.3" r="3.7" fill="#8a8ad8"/>
<circle cx="432.2" cy="165.9" r="3.7" fill="#8a8ad8"/>
<circle cx="442.8" cy="180.4" r="3.7" fill="#8a8ad8"/>
<circle cx="480.9" cy="180.8" r="3.7" fill="#8a8ad8"/>
<circle cx="533.5" cy="175.6" r="3.7" fill="#8a8ad8"/>
<circle cx="536.1" cy="175.6" r="3.7" fill="#8a8ad8"/>
<circle cx="456.7" cy="204.4" r="3.7" fill="#8a8ad8"/>
<circle cx="210.4" cy="112.4" r="3.7" fill="#7c7cd0"/>
<circle cx="210.4" cy="119.9" r="3.7" fill="#7c7cd0"/>
<circle cx="349.7" cy="135.8" r="3.7" fill="#7c7cd0"/>
<circle cx="495.5" cy="178.2" r="3.7" fill="#7c7cd0"/>
<circle cx="538.2" cy="166.8" r="3.7" fill="#7c7cd0"/>
<circle cx="232.6" cy="119.9" r="3.7" fill="#6969c3"/>
<circle cx="346.3" cy="131.1" r="3.7" fill="#6969c3"/>
<circle cx="286.6" cy="112.4" r="3.7" fill="#4e4eae"/>
<circle cx="411.7" cy="140.2" r="3.7" fill="#4e4eae"/>
<circle cx="535.7" cy="152.8" r="3.7" fill="#4e4eae"/>
<circle cx="535.7" cy="156.0" r="3.7" fill="#4e4eae"/>
<circle cx="291.7" cy="102.5" r="3.7" fill="#333399"/>
<circle cx="535.7" cy="142.0" r="3.7" fill="#333399"/>
<line x1="49.6" y1="364.5" x2="49.6" y2="598" stroke="#ededed" stroke-width="1"/>
<line x1="114.1" y1="364.5" x2="114.1" y2="598" stroke="#ededed" stroke-width="1"/>
<line x1="178.6" y1="364.5" x2="178.6" y2="598" stroke="#ededed" stroke-width="1"/>
<line x1="243.1" y1="364.5" x2="243.1" y2="598" stroke="#ededed" stroke-width="1"/>
<line x1="307.6" y1="364.5" x2="307.6" y2="598" stroke="#ededed" stroke-width="1"/>
<line x1="372.1" y1="364.5" x2="372.1" y2="598" stroke="#ededed" stroke-width="1"/>
<line x1="436.6" y1="364.5" x2="436.6" y2="598" stroke="#ededed" stroke-width="1"/>
<line x1="501.1" y1="364.5" x2="501.1" y2="598" stroke="#ededed" stroke-width="1"/>
<line x1="565.6" y1="364.5" x2="565.6" y2="598" stroke="#ededed" stroke-width="1"/>
<line x1="49.6" y1="580.0" x2="565.6" y2="580.0" stroke="#ededed" stroke-width="1"/>
<line x1="49.6" y1="550.0" x2="565.6" y2="550.0" stroke="#ededed" stroke-width="1"/>
<line x1="49.6" y1="520.0" x2="565.6" y2="520.0" stroke="#ededed" stroke-width="1"/>
<line x1="49.6" y1="490.0" x2="565.6" y2="490.0" stroke="#ededed" stroke-width="1"/>
<line x1="49.6" y1="460.0" x2="565.6" y2="460.0" stroke="#ededed" stroke-width="1"/>
<line x1="49.6" y1="430.0" x2="565.6" y2="430.0" stroke="#ededed" stroke-width="1"/>
<line x1="49.6" y1="400.0" x2="565.6" y2="400.0" stroke="#ededed" stroke-width="1"/>
<line x1="49.6" y1="370.0" x2="565.6" y2="370.0" stroke="#ededed" stroke-width="1"/>
<rect x="49.6" y="364.8" width="516" height="233.2" fill="none" stroke="#eaeaea" stroke-width="1"/>
<line x1="46" y1="580.0" x2="49" y2="580.0" stroke="#3a3a3a" stroke-width="1"/>
<text x="41.7" y="583.9" text-anchor="end" class="dbt">10</text>
<line x1="46" y1="550.0" x2="49" y2="550.0" stroke="#3a3a3a" stroke-width="1"/>
<text x="41.7" y="553.9" text-anchor="end" class="dbt">20</text>
<line x1="46" y1="520.0" x2="49" y2="520.0" stroke="#3a3a3a" stroke-width="1"/>
<text x="41.7" y="523.9" text-anchor="end" class="dbt">30</text>
<line x1="46" y1="490.0" x2="49" y2="490.0" stroke="#3a3a3a" stroke-width="1"/>
<text x="41.7" y="493.9" text-anchor="end" class="dbt">40</text>
<line x1="46" y1="460.0" x2="49" y2="460.0" stroke="#3a3a3a" stroke-width="1"/>
<text x="41.7" y="463.9" text-anchor="end" class="dbt">50</text>
<line x1="46" y1="430.0" x2="49" y2="430.0" stroke="#3a3a3a" stroke-width="1"/>
<text x="41.7" y="433.9" text-anchor="end" class="dbt">60</text>
<line x1="46" y1="400.0" x2="49" y2="400.0" stroke="#3a3a3a" stroke-width="1"/>
<text x="41.7" y="403.9" text-anchor="end" class="dbt">70</text>
<line x1="46" y1="370.0" x2="49" y2="370.0" stroke="#3a3a3a" stroke-width="1"/>
<text x="41.7" y="373.9" text-anchor="end" class="dbt">80</text>
<line x1="49.6" y1="598.5" x2="49.6" y2="602" stroke="#3a3a3a" stroke-width="1"/>
<text x="49.6" y="614.6" text-anchor="middle" class="dbt">-1.00</text>
<line x1="114.1" y1="598.5" x2="114.1" y2="602" stroke="#3a3a3a" stroke-width="1"/>
<text x="114.1" y="614.6" text-anchor="middle" class="dbt">-0.75</text>
<line x1="178.6" y1="598.5" x2="178.6" y2="602" stroke="#3a3a3a" stroke-width="1"/>
<text x="178.6" y="614.6" text-anchor="middle" class="dbt">-0.50</text>
<line x1="243.1" y1="598.5" x2="243.1" y2="602" stroke="#3a3a3a" stroke-width="1"/>
<text x="243.1" y="614.6" text-anchor="middle" class="dbt">-0.25</text>
<line x1="307.6" y1="598.5" x2="307.6" y2="602" stroke="#3a3a3a" stroke-width="1"/>
<text x="307.6" y="614.6" text-anchor="middle" class="dbt">0.00</text>
<line x1="372.1" y1="598.5" x2="372.1" y2="602" stroke="#3a3a3a" stroke-width="1"/>
<text x="372.1" y="614.6" text-anchor="middle" class="dbt">0.25</text>
<line x1="436.6" y1="598.5" x2="436.6" y2="602" stroke="#3a3a3a" stroke-width="1"/>
<text x="436.6" y="614.6" text-anchor="middle" class="dbt">0.50</text>
<line x1="501.1" y1="598.5" x2="501.1" y2="602" stroke="#3a3a3a" stroke-width="1"/>
<text x="501.1" y="614.6" text-anchor="middle" class="dbt">0.75</text>
<line x1="565.6" y1="598.5" x2="565.6" y2="602" stroke="#3a3a3a" stroke-width="1"/>
<text x="565.6" y="614.6" text-anchor="middle" class="dbt">1.00</text>
<text x="311.3" y="639" text-anchor="middle" class="db">Distance from TTS, Mb</text>
<text transform="translate(12.8,475.4) rotate(-90)" text-anchor="middle" class="db" style="font-size:12px">-log(P-value)</text>
<text x="61.4" y="392.9" class="big">B</text>
<rect x="578" y="364.9" width="14.4" height="233.4" fill="url(#gb)"/>
<line x1="592.4" y1="392.7" x2="596.4" y2="392.7" stroke="#3a3a3a" stroke-width="1"/>
<text x="601.2" y="396.6" class="dbt" style="font-size:11.5px">1.6</text>
<line x1="592.4" y1="428.1" x2="596.4" y2="428.1" stroke="#3a3a3a" stroke-width="1"/>
<text x="601.2" y="432.0" class="dbt" style="font-size:11.5px">1.4</text>
<line x1="592.4" y1="463.6" x2="596.4" y2="463.6" stroke="#3a3a3a" stroke-width="1"/>
<text x="601.2" y="467.5" class="dbt" style="font-size:11.5px">1.2</text>
<line x1="592.4" y1="499.1" x2="596.4" y2="499.1" stroke="#3a3a3a" stroke-width="1"/>
<text x="601.2" y="502.9" class="dbt" style="font-size:11.5px">1.0</text>
<line x1="592.4" y1="534.5" x2="596.4" y2="534.5" stroke="#3a3a3a" stroke-width="1"/>
<text x="601.2" y="538.4" class="dbt" style="font-size:11.5px">0.8</text>
<line x1="592.4" y1="570.0" x2="596.4" y2="570.0" stroke="#3a3a3a" stroke-width="1"/>
<text x="601.2" y="573.9" class="dbt" style="font-size:11.5px">0.6</text>
<text transform="translate(626.0,474.9) rotate(90)" text-anchor="middle" class="db" style="font-size:11.2px" textLength="105" lengthAdjust="spacingAndGlyphs">Absolute Effect Size</text>
<circle cx="165.3" cy="582.8" r="2.55" fill="#b2b1ef" fill-opacity="0.9" stroke="#b2b1ef" stroke-opacity="0.9" stroke-width="0.7"/>
<circle cx="196.6" cy="576.3" r="2.55" fill="#b2b1ef" fill-opacity="0.9" stroke="#b2b1ef" stroke-opacity="0.9" stroke-width="0.7"/>
<circle cx="235.3" cy="570.6" r="2.55" fill="#b2b1ef" fill-opacity="0.9" stroke="#b2b1ef" stroke-opacity="0.9" stroke-width="0.7"/>
<circle cx="260.3" cy="587.7" r="2.55" fill="#b2b1ef" fill-opacity="0.9" stroke="#b2b1ef" stroke-opacity="0.9" stroke-width="0.7"/>
<circle cx="383.6" cy="587.6" r="2.55" fill="#b2b1ef" fill-opacity="0.9" stroke="#b2b1ef" stroke-opacity="0.9" stroke-width="0.7"/>
<circle cx="400.2" cy="587.6" r="2.55" fill="#b2b1ef" fill-opacity="0.9" stroke="#b2b1ef" stroke-opacity="0.9" stroke-width="0.7"/>
<circle cx="409.6" cy="578.2" r="2.55" fill="#b2b1ef" fill-opacity="0.9" stroke="#b2b1ef" stroke-opacity="0.9" stroke-width="0.7"/>
<circle cx="422.7" cy="574.3" r="2.55" fill="#b2b1ef" fill-opacity="0.9" stroke="#b2b1ef" stroke-opacity="0.9" stroke-width="0.7"/>
<circle cx="355.7" cy="587.8" r="2.55" fill="#b2b1ef" fill-opacity="0.9" stroke="#b2b1ef" stroke-opacity="0.9" stroke-width="0.7"/>
<circle cx="340.0" cy="587.1" r="2.55" fill="#b2b1ef" fill-opacity="0.9" stroke="#b2b1ef" stroke-opacity="0.9" stroke-width="0.7"/>
<circle cx="331.0" cy="520.5" r="2.55" fill="#9291db" fill-opacity="0.9" stroke="#9291db" stroke-opacity="0.9" stroke-width="0.7"/>
<circle cx="341.9" cy="534.7" r="2.55" fill="#9291db" fill-opacity="0.9" stroke="#9291db" stroke-opacity="0.9" stroke-width="0.7"/>
<circle cx="333.1" cy="540.6" r="2.55" fill="#9291db" fill-opacity="0.9" stroke="#9291db" stroke-opacity="0.9" stroke-width="0.7"/>
<circle cx="341.9" cy="542.8" r="2.55" fill="#9291db" fill-opacity="0.9" stroke="#9291db" stroke-opacity="0.9" stroke-width="0.7"/>
<circle cx="300.2" cy="547.5" r="2.55" fill="#9291db" fill-opacity="0.9" stroke="#9291db" stroke-opacity="0.9" stroke-width="0.7"/>
<circle cx="322.2" cy="547.8" r="2.55" fill="#9291db" fill-opacity="0.9" stroke="#9291db" stroke-opacity="0.9" stroke-width="0.7"/>
<circle cx="313.6" cy="542.6" r="2.55" fill="#9291db" fill-opacity="0.9" stroke="#9291db" stroke-opacity="0.9" stroke-width="0.7"/>
<circle cx="316.9" cy="544.6" r="2.55" fill="#9291db" fill-opacity="0.9" stroke="#9291db" stroke-opacity="0.9" stroke-width="0.7"/>
<circle cx="277.5" cy="586.6" r="2.55" fill="#9291db" fill-opacity="0.9" stroke="#9291db" stroke-opacity="0.9" stroke-width="0.7"/>
<circle cx="273.5" cy="582.7" r="2.55" fill="#9291db" fill-opacity="0.9" stroke="#9291db" stroke-opacity="0.9" stroke-width="0.7"/>
<circle cx="267.0" cy="584.0" r="2.55" fill="#9291db" fill-opacity="0.9" stroke="#9291db" stroke-opacity="0.9" stroke-width="0.7"/>
<circle cx="266.3" cy="586.6" r="2.55" fill="#9291db" fill-opacity="0.9" stroke="#9291db" stroke-opacity="0.9" stroke-width="0.7"/>
<circle cx="382.7" cy="574.7" r="2.55" fill="#9291db" fill-opacity="0.9" stroke="#9291db" stroke-opacity="0.9" stroke-width="0.7"/>
<circle cx="378.0" cy="584.0" r="2.55" fill="#9291db" fill-opacity="0.9" stroke="#9291db" stroke-opacity="0.9" stroke-width="0.7"/>
<circle cx="397.4" cy="577.7" r="2.55" fill="#9291db" fill-opacity="0.9" stroke="#9291db" stroke-opacity="0.9" stroke-width="0.7"/>
<circle cx="300.1" cy="551.4" r="2.55" fill="#9291db" fill-opacity="0.9" stroke="#9291db" stroke-opacity="0.9" stroke-width="0.7"/>
<circle cx="315.1" cy="557.0" r="2.55" fill="#9291db" fill-opacity="0.9" stroke="#9291db" stroke-opacity="0.9" stroke-width="0.7"/>
<circle cx="301.5" cy="555.3" r="2.55" fill="#9291db" fill-opacity="0.9" stroke="#9291db" stroke-opacity="0.9" stroke-width="0.7"/>
<circle cx="296.6" cy="563.3" r="2.55" fill="#9291db" fill-opacity="0.9" stroke="#9291db" stroke-opacity="0.9" stroke-width="0.7"/>
<circle cx="298.0" cy="564.7" r="2.55" fill="#9291db" fill-opacity="0.9" stroke="#9291db" stroke-opacity="0.9" stroke-width="0.7"/>
<circle cx="322.8" cy="559.8" r="2.55" fill="#9291db" fill-opacity="0.9" stroke="#9291db" stroke-opacity="0.9" stroke-width="0.7"/>
<circle cx="318.6" cy="568.9" r="2.55" fill="#9291db" fill-opacity="0.9" stroke="#9291db" stroke-opacity="0.9" stroke-width="0.7"/>
<circle cx="296.2" cy="573.1" r="2.55" fill="#9291db" fill-opacity="0.9" stroke="#9291db" stroke-opacity="0.9" stroke-width="0.7"/>
<circle cx="313.0" cy="572.4" r="2.55" fill="#9291db" fill-opacity="0.9" stroke="#9291db" stroke-opacity="0.9" stroke-width="0.7"/>
<circle cx="300.8" cy="577.0" r="2.55" fill="#9291db" fill-opacity="0.9" stroke="#9291db" stroke-opacity="0.9" stroke-width="0.7"/>
<circle cx="293.4" cy="578.7" r="2.55" fill="#9291db" fill-opacity="0.9" stroke="#9291db" stroke-opacity="0.9" stroke-width="0.7"/>
<circle cx="288.5" cy="581.5" r="2.55" fill="#9291db" fill-opacity="0.9" stroke="#9291db" stroke-opacity="0.9" stroke-width="0.7"/>
<circle cx="286.4" cy="585.7" r="2.55" fill="#9291db" fill-opacity="0.9" stroke="#9291db" stroke-opacity="0.9" stroke-width="0.7"/>
<circle cx="295.5" cy="586.1" r="2.55" fill="#9291db" fill-opacity="0.9" stroke="#9291db" stroke-opacity="0.9" stroke-width="0.7"/>
<circle cx="317.9" cy="586.4" r="2.55" fill="#9291db" fill-opacity="0.9" stroke="#9291db" stroke-opacity="0.9" stroke-width="0.7"/>
<circle cx="314.4" cy="587.8" r="2.55" fill="#9291db" fill-opacity="0.9" stroke="#9291db" stroke-opacity="0.9" stroke-width="0.7"/>
<circle cx="321.4" cy="580.8" r="2.55" fill="#9291db" fill-opacity="0.9" stroke="#9291db" stroke-opacity="0.9" stroke-width="0.7"/>
<circle cx="322.8" cy="585.0" r="2.55" fill="#9291db" fill-opacity="0.9" stroke="#9291db" stroke-opacity="0.9" stroke-width="0.7"/>
<circle cx="322.8" cy="575.9" r="2.55" fill="#9291db" fill-opacity="0.9" stroke="#9291db" stroke-opacity="0.9" stroke-width="0.7"/>
<circle cx="323.2" cy="569.6" r="2.55" fill="#9291db" fill-opacity="0.9" stroke="#9291db" stroke-opacity="0.9" stroke-width="0.7"/>
<circle cx="320.0" cy="566.8" r="2.55" fill="#9291db" fill-opacity="0.9" stroke="#9291db" stroke-opacity="0.9" stroke-width="0.7"/>
<circle cx="325.6" cy="553.9" r="2.55" fill="#9291db" fill-opacity="0.9" stroke="#9291db" stroke-opacity="0.9" stroke-width="0.7"/>
<circle cx="334.0" cy="551.8" r="2.55" fill="#9291db" fill-opacity="0.9" stroke="#9291db" stroke-opacity="0.9" stroke-width="0.7"/>
<circle cx="335.1" cy="562.3" r="2.55" fill="#9291db" fill-opacity="0.9" stroke="#9291db" stroke-opacity="0.9" stroke-width="0.7"/>
<circle cx="354.3" cy="561.6" r="2.55" fill="#9291db" fill-opacity="0.9" stroke="#9291db" stroke-opacity="0.9" stroke-width="0.7"/>
<circle cx="324.9" cy="568.9" r="2.55" fill="#9291db" fill-opacity="0.9" stroke="#9291db" stroke-opacity="0.9" stroke-width="0.7"/>
<circle cx="323.5" cy="573.1" r="2.55" fill="#9291db" fill-opacity="0.9" stroke="#9291db" stroke-opacity="0.9" stroke-width="0.7"/>
<circle cx="334.0" cy="577.0" r="2.55" fill="#9291db" fill-opacity="0.9" stroke="#9291db" stroke-opacity="0.9" stroke-width="0.7"/>
<circle cx="336.5" cy="577.7" r="2.55" fill="#9291db" fill-opacity="0.9" stroke="#9291db" stroke-opacity="0.9" stroke-width="0.7"/>
<circle cx="347.0" cy="583.3" r="2.55" fill="#9291db" fill-opacity="0.9" stroke="#9291db" stroke-opacity="0.9" stroke-width="0.7"/>
<circle cx="346.6" cy="587.8" r="2.55" fill="#9291db" fill-opacity="0.9" stroke="#9291db" stroke-opacity="0.9" stroke-width="0.7"/>
<circle cx="336.1" cy="585.7" r="2.55" fill="#9291db" fill-opacity="0.9" stroke="#9291db" stroke-opacity="0.9" stroke-width="0.7"/>
<circle cx="332.6" cy="588.2" r="2.55" fill="#9291db" fill-opacity="0.9" stroke="#9291db" stroke-opacity="0.9" stroke-width="0.7"/>
<circle cx="327.0" cy="586.4" r="2.55" fill="#9291db" fill-opacity="0.9" stroke="#9291db" stroke-opacity="0.9" stroke-width="0.7"/>
<circle cx="322.1" cy="586.4" r="2.55" fill="#9291db" fill-opacity="0.9" stroke="#9291db" stroke-opacity="0.9" stroke-width="0.7"/>
<circle cx="324.2" cy="583.6" r="2.55" fill="#9291db" fill-opacity="0.9" stroke="#9291db" stroke-opacity="0.9" stroke-width="0.7"/>
<circle cx="209.3" cy="550.6" r="2.55" fill="#7a79cd" fill-opacity="0.9" stroke="#7a79cd" stroke-opacity="0.9" stroke-width="0.7"/>
<circle cx="243.9" cy="535.9" r="2.55" fill="#7a79cd" fill-opacity="0.9" stroke="#7a79cd" stroke-opacity="0.9" stroke-width="0.7"/>
<circle cx="310.1" cy="429.2" r="2.55" fill="#7a79cd" fill-opacity="0.9" stroke="#7a79cd" stroke-opacity="0.9" stroke-width="0.7"/>
<circle cx="323.9" cy="497.2" r="2.55" fill="#7a79cd" fill-opacity="0.9" stroke="#7a79cd" stroke-opacity="0.9" stroke-width="0.7"/>
<circle cx="313.6" cy="501.8" r="2.55" fill="#7a79cd" fill-opacity="0.9" stroke="#7a79cd" stroke-opacity="0.9" stroke-width="0.7"/>
<circle cx="314.3" cy="506.8" r="2.55" fill="#7a79cd" fill-opacity="0.9" stroke="#7a79cd" stroke-opacity="0.9" stroke-width="0.7"/>
<circle cx="312.6" cy="516.3" r="2.55" fill="#7a79cd" fill-opacity="0.9" stroke="#7a79cd" stroke-opacity="0.9" stroke-width="0.7"/>
<circle cx="316.2" cy="525.5" r="2.55" fill="#7a79cd" fill-opacity="0.9" stroke="#7a79cd" stroke-opacity="0.9" stroke-width="0.7"/>
<circle cx="305.7" cy="530.7" r="2.55" fill="#7a79cd" fill-opacity="0.9" stroke="#7a79cd" stroke-opacity="0.9" stroke-width="0.7"/>
<circle cx="308.4" cy="533.4" r="2.55" fill="#7a79cd" fill-opacity="0.9" stroke="#7a79cd" stroke-opacity="0.9" stroke-width="0.7"/>
<circle cx="310.3" cy="536.0" r="2.55" fill="#7a79cd" fill-opacity="0.9" stroke="#7a79cd" stroke-opacity="0.9" stroke-width="0.7"/>
<circle cx="322.8" cy="538.6" r="2.55" fill="#7a79cd" fill-opacity="0.9" stroke="#7a79cd" stroke-opacity="0.9" stroke-width="0.7"/>
<circle cx="315.6" cy="544.5" r="2.55" fill="#7a79cd" fill-opacity="0.9" stroke="#7a79cd" stroke-opacity="0.9" stroke-width="0.7"/>
<circle cx="279.5" cy="569.6" r="2.55" fill="#7a79cd" fill-opacity="0.9" stroke="#7a79cd" stroke-opacity="0.9" stroke-width="0.7"/>
<circle cx="281.8" cy="573.5" r="2.55" fill="#7a79cd" fill-opacity="0.9" stroke="#7a79cd" stroke-opacity="0.9" stroke-width="0.7"/>
<circle cx="280.5" cy="578.4" r="2.55" fill="#7a79cd" fill-opacity="0.9" stroke="#7a79cd" stroke-opacity="0.9" stroke-width="0.7"/>
<circle cx="383.6" cy="550.5" r="2.55" fill="#7a79cd" fill-opacity="0.9" stroke="#7a79cd" stroke-opacity="0.9" stroke-width="0.7"/>
<circle cx="369.9" cy="576.5" r="2.55" fill="#7a79cd" fill-opacity="0.9" stroke="#7a79cd" stroke-opacity="0.9" stroke-width="0.7"/>
<circle cx="394.3" cy="584.8" r="2.55" fill="#7a79cd" fill-opacity="0.9" stroke="#7a79cd" stroke-opacity="0.9" stroke-width="0.7"/>
<circle cx="402.1" cy="569.1" r="2.55" fill="#7a79cd" fill-opacity="0.9" stroke="#7a79cd" stroke-opacity="0.9" stroke-width="0.7"/>
<circle cx="314.4" cy="551.8" r="2.55" fill="#7a79cd" fill-opacity="0.9" stroke="#7a79cd" stroke-opacity="0.9" stroke-width="0.7"/>
<circle cx="303.9" cy="560.2" r="2.55" fill="#7a79cd" fill-opacity="0.9" stroke="#7a79cd" stroke-opacity="0.9" stroke-width="0.7"/>
<circle cx="317.2" cy="571.0" r="2.55" fill="#7a79cd" fill-opacity="0.9" stroke="#7a79cd" stroke-opacity="0.9" stroke-width="0.7"/>
<circle cx="311.6" cy="578.0" r="2.55" fill="#7a79cd" fill-opacity="0.9" stroke="#7a79cd" stroke-opacity="0.9" stroke-width="0.7"/>
<circle cx="301.8" cy="582.9" r="2.55" fill="#7a79cd" fill-opacity="0.9" stroke="#7a79cd" stroke-opacity="0.9" stroke-width="0.7"/>
<circle cx="311.6" cy="585.0" r="2.55" fill="#7a79cd" fill-opacity="0.9" stroke="#7a79cd" stroke-opacity="0.9" stroke-width="0.7"/>
<circle cx="315.1" cy="582.9" r="2.55" fill="#7a79cd" fill-opacity="0.9" stroke="#7a79cd" stroke-opacity="0.9" stroke-width="0.7"/>
<circle cx="331.6" cy="561.6" r="2.55" fill="#7a79cd" fill-opacity="0.9" stroke="#7a79cd" stroke-opacity="0.9" stroke-width="0.7"/>
<circle cx="331.2" cy="572.4" r="2.55" fill="#7a79cd" fill-opacity="0.9" stroke="#7a79cd" stroke-opacity="0.9" stroke-width="0.7"/>
<circle cx="351.5" cy="571.7" r="2.55" fill="#7a79cd" fill-opacity="0.9" stroke="#7a79cd" stroke-opacity="0.9" stroke-width="0.7"/>
<circle cx="314.0" cy="536.0" r="2.55" fill="#7a79cd" fill-opacity="0.9" stroke="#7a79cd" stroke-opacity="0.9" stroke-width="0.7"/>
<circle cx="312.5" cy="531.0" r="2.55" fill="#7a79cd" fill-opacity="0.9" stroke="#7a79cd" stroke-opacity="0.9" stroke-width="0.7"/>
<circle cx="306.0" cy="528.0" r="2.55" fill="#7a79cd" fill-opacity="0.9" stroke="#7a79cd" stroke-opacity="0.9" stroke-width="0.7"/>
<circle cx="228.4" cy="551.1" r="2.55" fill="#6562bf" fill-opacity="0.9" stroke="#6562bf" stroke-opacity="0.9" stroke-width="0.7"/>
<circle cx="308.8" cy="375.4" r="2.55" fill="#6562bf" fill-opacity="0.9" stroke="#6562bf" stroke-opacity="0.9" stroke-width="0.7"/>
<circle cx="308.8" cy="406.0" r="2.55" fill="#6562bf" fill-opacity="0.9" stroke="#6562bf" stroke-opacity="0.9" stroke-width="0.7"/>
<circle cx="309.3" cy="408.0" r="2.55" fill="#6562bf" fill-opacity="0.9" stroke="#6562bf" stroke-opacity="0.9" stroke-width="0.7"/>
<circle cx="310.1" cy="423.1" r="2.55" fill="#6562bf" fill-opacity="0.9" stroke="#6562bf" stroke-opacity="0.9" stroke-width="0.7"/>
<circle cx="307.2" cy="433.3" r="2.55" fill="#6562bf" fill-opacity="0.9" stroke="#6562bf" stroke-opacity="0.9" stroke-width="0.7"/>
<circle cx="308.0" cy="435.7" r="2.55" fill="#6562bf" fill-opacity="0.9" stroke="#6562bf" stroke-opacity="0.9" stroke-width="0.7"/>
<circle cx="314.1" cy="432.1" r="2.55" fill="#6562bf" fill-opacity="0.9" stroke="#6562bf" stroke-opacity="0.9" stroke-width="0.7"/>
<circle cx="316.5" cy="436.0" r="2.55" fill="#6562bf" fill-opacity="0.9" stroke="#6562bf" stroke-opacity="0.9" stroke-width="0.7"/>
<circle cx="311.5" cy="438.9" r="2.55" fill="#6562bf" fill-opacity="0.9" stroke="#6562bf" stroke-opacity="0.9" stroke-width="0.7"/>
<circle cx="309.3" cy="444.0" r="2.55" fill="#6562bf" fill-opacity="0.9" stroke="#6562bf" stroke-opacity="0.9" stroke-width="0.7"/>
<circle cx="311.5" cy="447.7" r="2.55" fill="#6562bf" fill-opacity="0.9" stroke="#6562bf" stroke-opacity="0.9" stroke-width="0.7"/>
<circle cx="302.0" cy="450.9" r="2.55" fill="#6562bf" fill-opacity="0.9" stroke="#6562bf" stroke-opacity="0.9" stroke-width="0.7"/>
<circle cx="309.7" cy="456.8" r="2.55" fill="#6562bf" fill-opacity="0.9" stroke="#6562bf" stroke-opacity="0.9" stroke-width="0.7"/>
<circle cx="323.7" cy="457.7" r="2.55" fill="#6562bf" fill-opacity="0.9" stroke="#6562bf" stroke-opacity="0.9" stroke-width="0.7"/>
<circle cx="302.4" cy="467.3" r="2.55" fill="#6562bf" fill-opacity="0.9" stroke="#6562bf" stroke-opacity="0.9" stroke-width="0.7"/>
<circle cx="307.0" cy="467.3" r="2.55" fill="#6562bf" fill-opacity="0.9" stroke="#6562bf" stroke-opacity="0.9" stroke-width="0.7"/>
<circle cx="311.6" cy="464.3" r="2.55" fill="#6562bf" fill-opacity="0.9" stroke="#6562bf" stroke-opacity="0.9" stroke-width="0.7"/>
<circle cx="313.0" cy="466.3" r="2.55" fill="#6562bf" fill-opacity="0.9" stroke="#6562bf" stroke-opacity="0.9" stroke-width="0.7"/>
<circle cx="311.6" cy="468.2" r="2.55" fill="#6562bf" fill-opacity="0.9" stroke="#6562bf" stroke-opacity="0.9" stroke-width="0.7"/>
<circle cx="322.2" cy="471.1" r="2.55" fill="#6562bf" fill-opacity="0.9" stroke="#6562bf" stroke-opacity="0.9" stroke-width="0.7"/>
<circle cx="307.7" cy="473.5" r="2.55" fill="#6562bf" fill-opacity="0.9" stroke="#6562bf" stroke-opacity="0.9" stroke-width="0.7"/>
<circle cx="309.0" cy="479.2" r="2.55" fill="#6562bf" fill-opacity="0.9" stroke="#6562bf" stroke-opacity="0.9" stroke-width="0.7"/>
<circle cx="307.7" cy="482.0" r="2.55" fill="#6562bf" fill-opacity="0.9" stroke="#6562bf" stroke-opacity="0.9" stroke-width="0.7"/>
<circle cx="320.4" cy="482.4" r="2.55" fill="#6562bf" fill-opacity="0.9" stroke="#6562bf" stroke-opacity="0.9" stroke-width="0.7"/>
<circle cx="318.6" cy="486.0" r="2.55" fill="#6562bf" fill-opacity="0.9" stroke="#6562bf" stroke-opacity="0.9" stroke-width="0.7"/>
<circle cx="313.4" cy="489.9" r="2.55" fill="#6562bf" fill-opacity="0.9" stroke="#6562bf" stroke-opacity="0.9" stroke-width="0.7"/>
<circle cx="312.3" cy="492.6" r="2.55" fill="#6562bf" fill-opacity="0.9" stroke="#6562bf" stroke-opacity="0.9" stroke-width="0.7"/>
<circle cx="311.0" cy="495.2" r="2.55" fill="#6562bf" fill-opacity="0.9" stroke="#6562bf" stroke-opacity="0.9" stroke-width="0.7"/>
<circle cx="307.7" cy="498.5" r="2.55" fill="#6562bf" fill-opacity="0.9" stroke="#6562bf" stroke-opacity="0.9" stroke-width="0.7"/>
<circle cx="310.3" cy="500.5" r="2.55" fill="#6562bf" fill-opacity="0.9" stroke="#6562bf" stroke-opacity="0.9" stroke-width="0.7"/>
<circle cx="309.7" cy="503.1" r="2.55" fill="#6562bf" fill-opacity="0.9" stroke="#6562bf" stroke-opacity="0.9" stroke-width="0.7"/>
<circle cx="309.7" cy="508.4" r="2.55" fill="#6562bf" fill-opacity="0.9" stroke="#6562bf" stroke-opacity="0.9" stroke-width="0.7"/>
<circle cx="307.7" cy="516.9" r="2.55" fill="#6562bf" fill-opacity="0.9" stroke="#6562bf" stroke-opacity="0.9" stroke-width="0.7"/>
<circle cx="340.5" cy="523.1" r="2.55" fill="#6562bf" fill-opacity="0.9" stroke="#6562bf" stroke-opacity="0.9" stroke-width="0.7"/>
<circle cx="314.3" cy="528.1" r="2.55" fill="#6562bf" fill-opacity="0.9" stroke="#6562bf" stroke-opacity="0.9" stroke-width="0.7"/>
<circle cx="316.2" cy="531.4" r="2.55" fill="#6562bf" fill-opacity="0.9" stroke="#6562bf" stroke-opacity="0.9" stroke-width="0.7"/>
<circle cx="326.1" cy="542.6" r="2.55" fill="#6562bf" fill-opacity="0.9" stroke="#6562bf" stroke-opacity="0.9" stroke-width="0.7"/>
<circle cx="309.7" cy="539.3" r="2.55" fill="#6562bf" fill-opacity="0.9" stroke="#6562bf" stroke-opacity="0.9" stroke-width="0.7"/>
<circle cx="278.1" cy="560.4" r="2.55" fill="#6562bf" fill-opacity="0.9" stroke="#6562bf" stroke-opacity="0.9" stroke-width="0.7"/>
<circle cx="259.2" cy="566.2" r="2.55" fill="#6562bf" fill-opacity="0.9" stroke="#6562bf" stroke-opacity="0.9" stroke-width="0.7"/>
<circle cx="406.4" cy="568.3" r="2.55" fill="#6562bf" fill-opacity="0.9" stroke="#6562bf" stroke-opacity="0.9" stroke-width="0.7"/>
<circle cx="436.9" cy="570.7" r="2.55" fill="#6562bf" fill-opacity="0.9" stroke="#6562bf" stroke-opacity="0.9" stroke-width="0.7"/>
<circle cx="308.8" cy="566.8" r="2.55" fill="#6562bf" fill-opacity="0.9" stroke="#6562bf" stroke-opacity="0.9" stroke-width="0.7"/>
<circle cx="309.5" cy="572.4" r="2.55" fill="#6562bf" fill-opacity="0.9" stroke="#6562bf" stroke-opacity="0.9" stroke-width="0.7"/>
<circle cx="308.8" cy="583.6" r="2.55" fill="#6562bf" fill-opacity="0.9" stroke="#6562bf" stroke-opacity="0.9" stroke-width="0.7"/>
<circle cx="327.0" cy="561.2" r="2.55" fill="#6562bf" fill-opacity="0.9" stroke="#6562bf" stroke-opacity="0.9" stroke-width="0.7"/>
<circle cx="348.0" cy="566.3" r="2.55" fill="#6562bf" fill-opacity="0.9" stroke="#6562bf" stroke-opacity="0.9" stroke-width="0.7"/>
<circle cx="336.8" cy="567.9" r="2.55" fill="#6562bf" fill-opacity="0.9" stroke="#6562bf" stroke-opacity="0.9" stroke-width="0.7"/>
<circle cx="342.8" cy="572.8" r="2.55" fill="#6562bf" fill-opacity="0.9" stroke="#6562bf" stroke-opacity="0.9" stroke-width="0.7"/>
<circle cx="328.4" cy="576.6" r="2.55" fill="#6562bf" fill-opacity="0.9" stroke="#6562bf" stroke-opacity="0.9" stroke-width="0.7"/>
<circle cx="329.1" cy="580.1" r="2.55" fill="#6562bf" fill-opacity="0.9" stroke="#6562bf" stroke-opacity="0.9" stroke-width="0.7"/>
<circle cx="334.7" cy="582.2" r="2.55" fill="#6562bf" fill-opacity="0.9" stroke="#6562bf" stroke-opacity="0.9" stroke-width="0.7"/>
<circle cx="238.9" cy="586.6" r="2.55" fill="#534fb3" fill-opacity="0.9" stroke="#534fb3" stroke-opacity="0.9" stroke-width="0.7"/>
<circle cx="309.6" cy="386.4" r="2.55" fill="#534fb3" fill-opacity="0.9" stroke="#534fb3" stroke-opacity="0.9" stroke-width="0.7"/>
<circle cx="332.0" cy="498.5" r="2.55" fill="#534fb3" fill-opacity="0.9" stroke="#534fb3" stroke-opacity="0.9" stroke-width="0.7"/>
<circle cx="309.7" cy="513.0" r="2.55" fill="#534fb3" fill-opacity="0.9" stroke="#534fb3" stroke-opacity="0.9" stroke-width="0.7"/>
<circle cx="308.4" cy="522.6" r="2.55" fill="#534fb3" fill-opacity="0.9" stroke="#534fb3" stroke-opacity="0.9" stroke-width="0.7"/>
<circle cx="309.7" cy="524.4" r="2.55" fill="#534fb3" fill-opacity="0.9" stroke="#534fb3" stroke-opacity="0.9" stroke-width="0.7"/>
<circle cx="321.5" cy="536.0" r="2.55" fill="#534fb3" fill-opacity="0.9" stroke="#534fb3" stroke-opacity="0.9" stroke-width="0.7"/>
<circle cx="308.4" cy="541.3" r="2.55" fill="#534fb3" fill-opacity="0.9" stroke="#534fb3" stroke-opacity="0.9" stroke-width="0.7"/>
<circle cx="378.7" cy="498.1" r="2.55" fill="#534fb3" fill-opacity="0.9" stroke="#534fb3" stroke-opacity="0.9" stroke-width="0.7"/>
<circle cx="310.6" cy="565.1" r="2.55" fill="#534fb3" fill-opacity="0.9" stroke="#534fb3" stroke-opacity="0.9" stroke-width="0.7"/>
<circle cx="302.9" cy="570.7" r="2.55" fill="#534fb3" fill-opacity="0.9" stroke="#534fb3" stroke-opacity="0.9" stroke-width="0.7"/>
<circle cx="297.6" cy="580.8" r="2.55" fill="#534fb3" fill-opacity="0.9" stroke="#534fb3" stroke-opacity="0.9" stroke-width="0.7"/>
<circle cx="305.3" cy="587.8" r="2.55" fill="#534fb3" fill-opacity="0.9" stroke="#534fb3" stroke-opacity="0.9" stroke-width="0.7"/>
<circle cx="338.3" cy="515.6" r="2.55" fill="#4240a9" fill-opacity="0.9" stroke="#4240a9" stroke-opacity="0.9" stroke-width="0.7"/>
<circle cx="338.3" cy="517.6" r="2.55" fill="#4240a9" fill-opacity="0.9" stroke="#4240a9" stroke-opacity="0.9" stroke-width="0.7"/>
<circle cx="308.4" cy="545.2" r="2.55" fill="#4240a9" fill-opacity="0.9" stroke="#4240a9" stroke-opacity="0.9" stroke-width="0.7"/>
<circle cx="310.3" cy="547.2" r="2.55" fill="#4240a9" fill-opacity="0.9" stroke="#4240a9" stroke-opacity="0.9" stroke-width="0.7"/>
<circle cx="321.8" cy="553.2" r="2.55" fill="#4240a9" fill-opacity="0.9" stroke="#4240a9" stroke-opacity="0.9" stroke-width="0.7"/>
<circle cx="306.7" cy="561.9" r="2.55" fill="#4240a9" fill-opacity="0.9" stroke="#4240a9" stroke-opacity="0.9" stroke-width="0.7"/>
<circle cx="321.4" cy="562.6" r="2.55" fill="#4240a9" fill-opacity="0.9" stroke="#4240a9" stroke-opacity="0.9" stroke-width="0.7"/>
<circle cx="305.7" cy="576.6" r="2.55" fill="#4240a9" fill-opacity="0.9" stroke="#4240a9" stroke-opacity="0.9" stroke-width="0.7"/>
<circle cx="316.9" cy="577.3" r="2.55" fill="#4240a9" fill-opacity="0.9" stroke="#4240a9" stroke-opacity="0.9" stroke-width="0.7"/>
<circle cx="343.5" cy="563.3" r="2.55" fill="#4240a9" fill-opacity="0.9" stroke="#4240a9" stroke-opacity="0.9" stroke-width="0.7"/>
<circle cx="341.7" cy="579.1" r="2.55" fill="#4240a9" fill-opacity="0.9" stroke="#4240a9" stroke-opacity="0.9" stroke-width="0.7"/>
<circle cx="291.3" cy="495.4" r="2.55" fill="#262398" fill-opacity="0.9" stroke="#262398" stroke-opacity="0.9" stroke-width="0.7"/>
<circle cx="309.5" cy="555.3" r="2.55" fill="#262398" fill-opacity="0.9" stroke="#262398" stroke-opacity="0.9" stroke-width="0.7"/>
<circle cx="314.8" cy="563.3" r="2.55" fill="#262398" fill-opacity="0.9" stroke="#262398" stroke-opacity="0.9" stroke-width="0.7"/>
<circle cx="298.5" cy="538.2" r="2.55" fill="#080485" fill-opacity="0.9" stroke="#080485" stroke-opacity="0.9" stroke-width="0.7"/>
<circle cx="362.5" cy="530.9" r="2.55" fill="#080485" fill-opacity="0.9" stroke="#080485" stroke-opacity="0.9" stroke-width="0.7"/>
<circle cx="305.3" cy="553.9" r="2.55" fill="#080485" fill-opacity="0.9" stroke="#080485" stroke-opacity="0.9" stroke-width="0.7"/>
</svg>
</body></html>
